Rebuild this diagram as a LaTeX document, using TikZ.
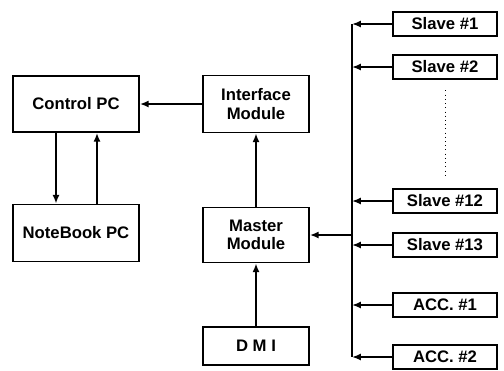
\documentclass[tikz,border=0pt]{standalone}
\usepackage{fontspec}
\setmainfont{Liberation Sans}
\usetikzlibrary{arrows.meta}
\tikzset{
  box/.style={draw,line width=1pt,align=center,inner sep=2pt,font=\fontsize{9.5}{10.5}\selectfont\bfseries},
  slave/.style={box,minimum width=2.08cm,minimum height=0.48cm},
  arr/.style={line width=1pt,-{Latex[length=5pt,width=4pt]}},
}
\begin{document}
\begin{tikzpicture}[x=0.02cm,y=-0.02cm]
    \useasboundingbox(0,0)rectangle(504,370);

    \coordinate(bus)at(352,0);
    \coordinate(d1)at(56,0);
    \coordinate(d2)at(97,0);

    \node[box,minimum width=2.52cm,minimum height=1.12cm](cpc)at(76,104){Control PC};
    \node[box,minimum width=2.52cm,minimum height=1.14cm](nb)at(76,233){NoteBook PC};
    \node[box,minimum width=2.12cm,minimum height=1.14cm](im)at(256,104){Interface\\Module};
    \node[box,minimum width=2.12cm,minimum height=1.1cm](mm)at(256,235){Master\\Module};
    \node[box,minimum width=2.12cm,minimum height=0.76cm](dmi)at(256,346){D M I};

    \foreach\n/\y/\t in{s1/24/{Slave \#1},s2/67/{Slave \#2},s12/201/{Slave \#12},s13/245/{Slave \#13},a1/305/{ACC. \#1},a2/357/{ACC. \#2}}{
      \node[slave](\n)at(445,\y){\t};
      \draw[arr](\n.west)--(\n.west-|bus);
    }
    \draw[line width=1pt](s1.west-|bus)--(a2.west-|bus);
    \draw[dotted,thin,shorten <=6pt,shorten >=6pt](s2.south)--(s12.north);

    \draw[arr](mm.east-|bus)--(mm.east);
    \draw[arr](dmi.north)--(mm.south);
    \draw[arr](mm.north)--(im.south);
    \draw[arr](im.west)--(cpc.east);
    \draw[arr](cpc.south-|d1)--(nb.north-|d1);
    \draw[arr](nb.north-|d2)--(cpc.south-|d2);
  \end{tikzpicture}
\end{document}
